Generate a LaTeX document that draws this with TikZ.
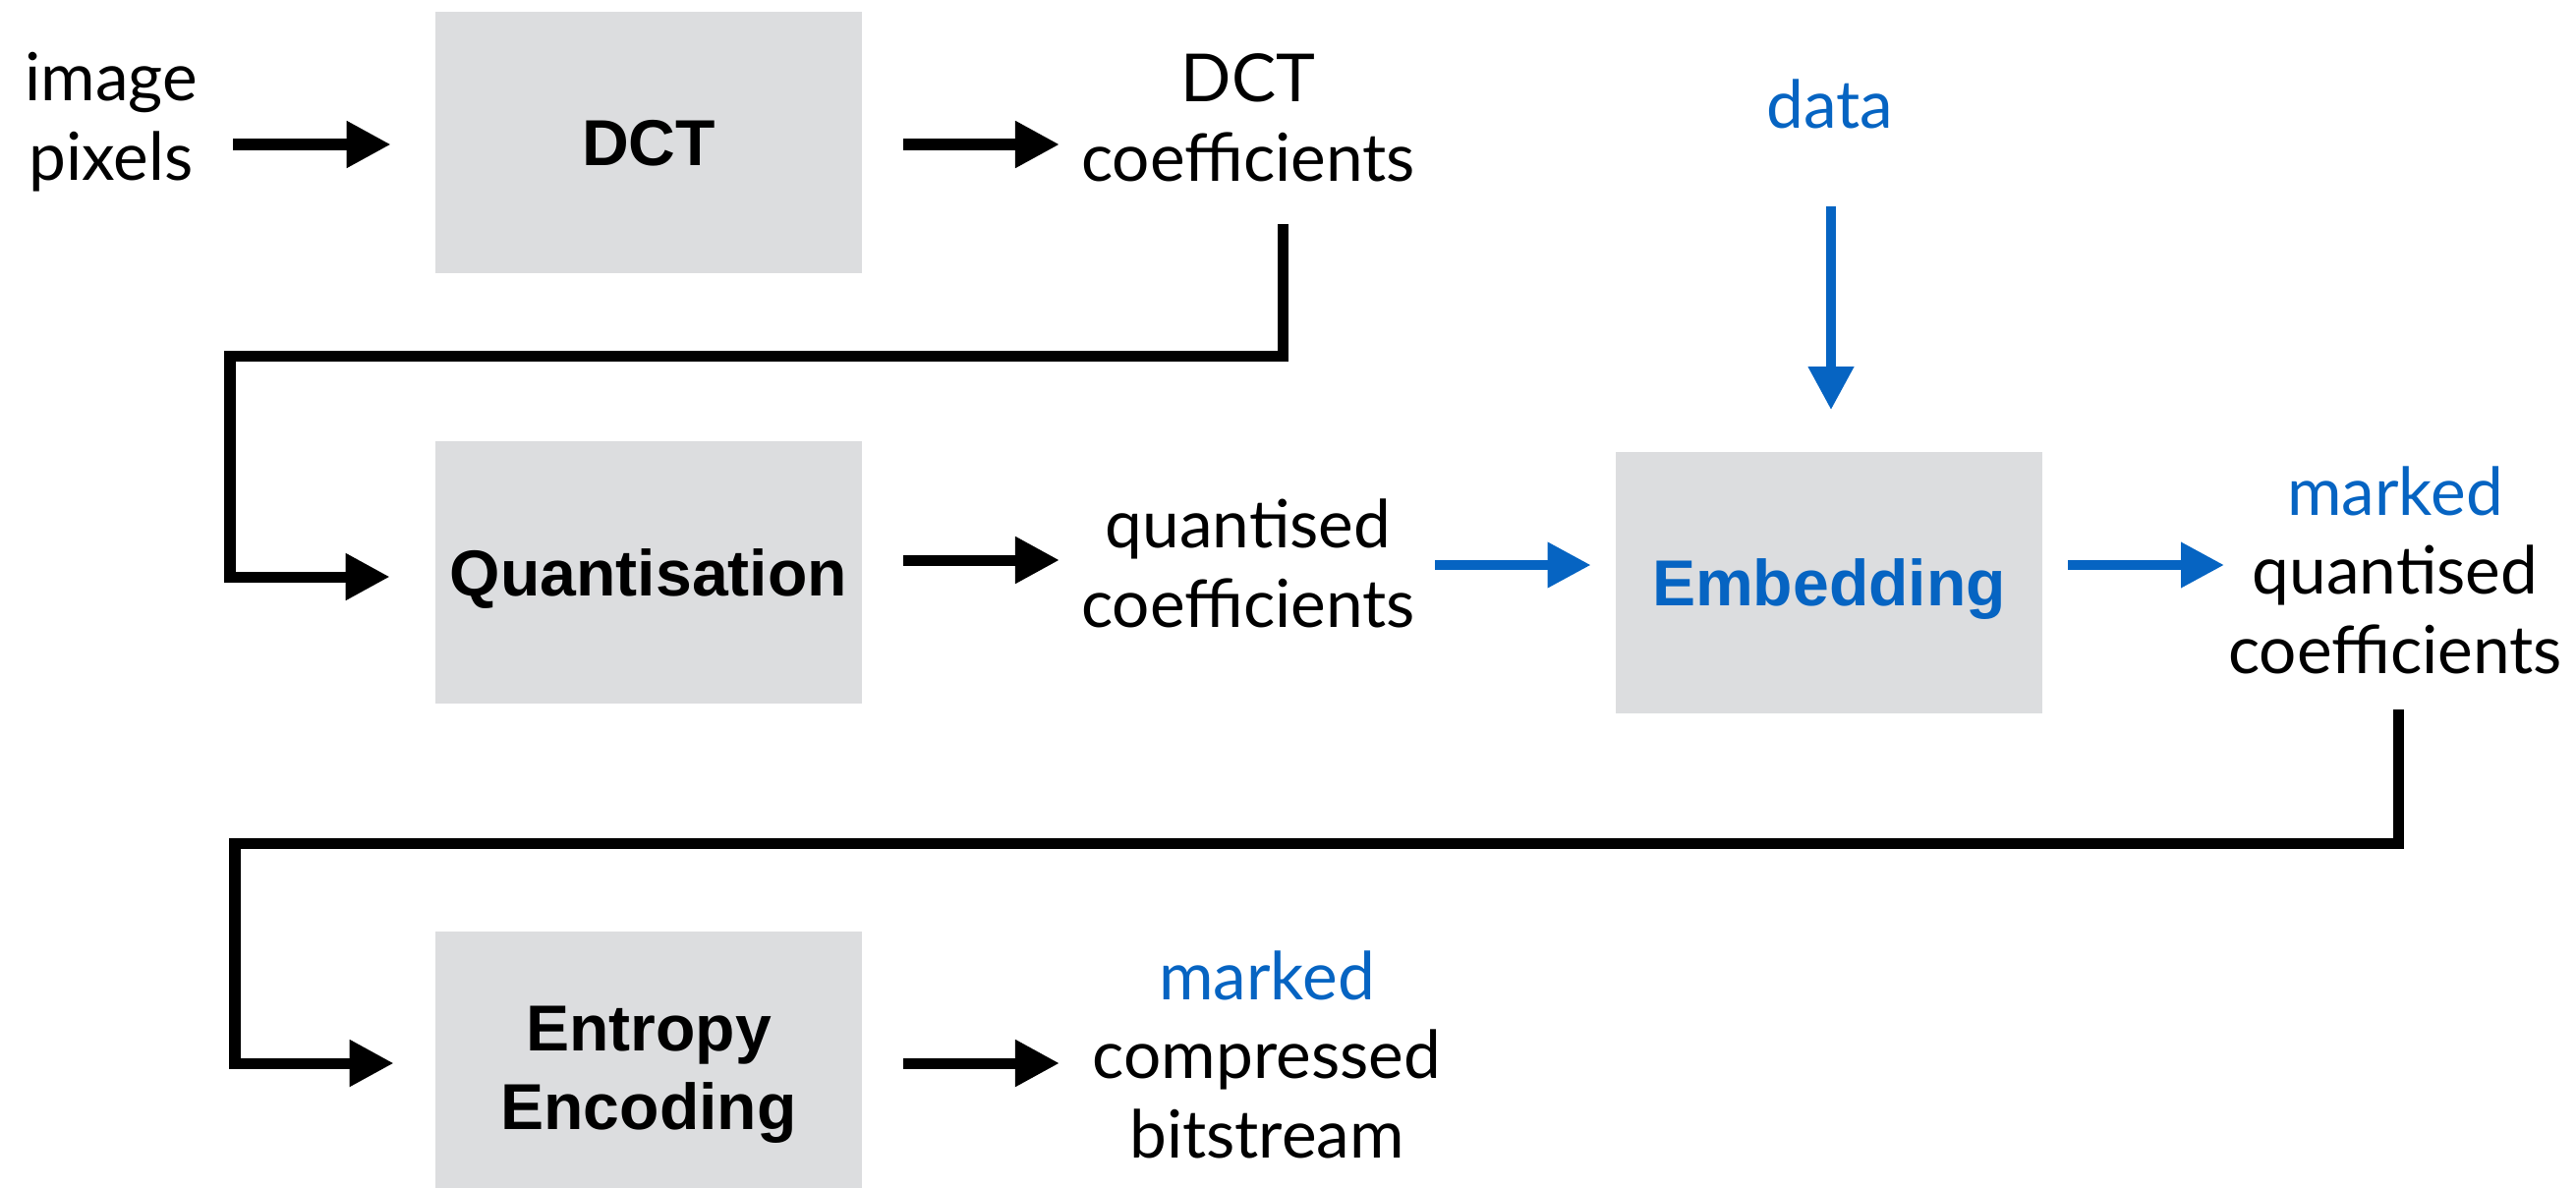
\documentclass[tikz,border=0pt]{standalone}
\usepackage{fontspec}
\setmainfont{Lato}
\newfontfamily\stagefont{Liberation Sans}
\usetikzlibrary{arrows.meta,calc}
\definecolor{boxgray}{RGB}{220,221,223}
\definecolor{markblue}{RGB}{6,100,194}

\begin{document}
\begin{tikzpicture}[x=0.01cm,y=-0.01cm,
  stage/.style={fill=boxgray, inner sep=0pt, minimum width=4.33cm,
    minimum height=2.66cm, align=center,
    font={\stagefont\bfseries\fontsize{18.8}{22.8}\selectfont}},
  lbl/.style={align=center, anchor=base,
    font={\fontsize{19.2}{22.8}\selectfont}},
  blk/.style={line width=3.13pt, line join=miter,
    -{Triangle[length=0.45cm,width=0.45cm]}},
  blu/.style={draw=markblue, line width=2.85pt,
    -{Triangle[length=0.44cm,width=0.44cm]}}
]
\useasboundingbox (0,0) rectangle (2621,1209);

% processing stages (the last one runs off the lower edge)
\node[stage, text depth=0pt] (dct) at (660,145) {DCT};
\node[stage, text depth=0pt] (quant) at (660,582.5) {Quantisation};
\node[stage, text depth=0pt, text=markblue] (emb) at (1861,593) {Embedding};
\node[stage, minimum height=2.91cm] (ent) at (660,1093.5) {Entropy\\Encoding};

% data labels, placed by the baseline of their last line
\node[lbl] (pix) at (113,183) {image\\pixels};
\node[lbl] (dctc) at (1270,184) {DCT\\coefficients};
\node[lbl, text=markblue] (data) at (1862,130) {data};
\node[lbl] (qc) at (1270,638) {quantised\\coefficients};
\node[lbl] (mqc) at (2437,685) {\textcolor{markblue}{marked}\\quantised\\coefficients};
\node[lbl] (mcb) at (1289,1178) {\textcolor{markblue}{marked}\\compressed\\bitstream};

% arrow end points next to the labels
\coordinate (pixout) at (237,147);
\coordinate (dctcin) at (1078,147);
\coordinate (dctcout) at (1305,228);
\coordinate (qcin) at (1078,570);
\coordinate (qcout) at (1460,575);
\coordinate (mqcin) at (2263,575);
\coordinate (mqcout) at (2440,722);
\coordinate (mcbin) at (1078,1082);
\coordinate (dataout) at (1863,210);

% main path
\draw[blk, shorten >=0.45cm] (pixout) -- (pixout -| dct.west);
\draw[blk, shorten <=0.42cm] (dct.east |- dctcin) -- (dctcin);
\draw[blk, shorten >=0.46cm] (dctcout) -- (1305,362.5) -- (234,362.5) -- (234,587) -- (quant.west |- 0,587);
\draw[blk, shorten <=0.42cm] (quant.east |- qcin) -- (qcin);
\draw[blk, shorten >=0.42cm] (mqcout) -- (2440,858.5) -- (239,858.5) -- (239,1082) -- (ent.west |- 0,1082);
\draw[blk, shorten <=0.42cm] (ent.east |- mcbin) -- (mcbin);

% embedding of the data
\draw[blu, shorten >=0.42cm] (dataout) -- (dataout |- emb.north);
\draw[blu, shorten >=0.25cm] (qcout) -- (qcout -| emb.west);
\draw[blu, shorten <=0.26cm] (emb.east |- mqcin) -- (mqcin);
\end{tikzpicture}
\end{document}
